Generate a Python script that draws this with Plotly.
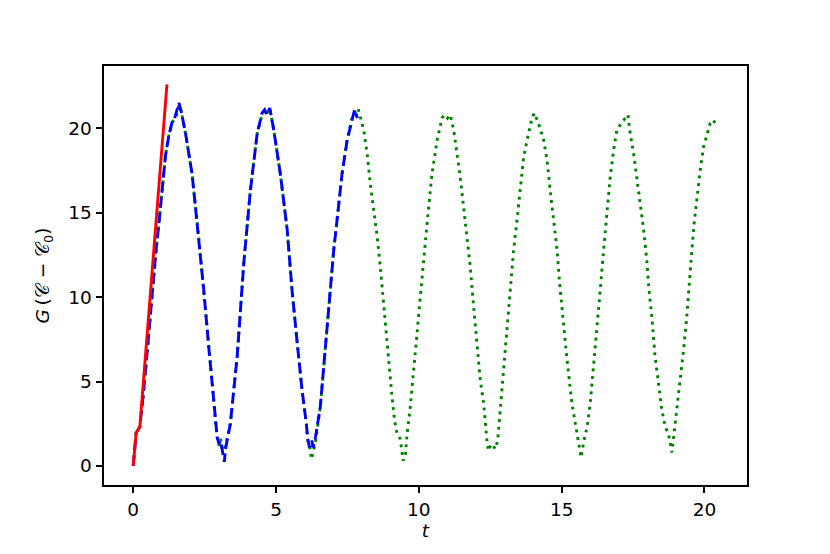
import plotly.graph_objects as go

# ---- data ----
red_t = [0.0, 0.1, 0.23, 0.5, 0.8, 1.18]
red_g = [0.0, 1.95, 2.3, 8.2, 14.7, 22.6]

blue_t = [0.0, 0.1, 0.23, 0.35, 0.5, 0.66, 0.8, 0.9, 1.0, 1.13, 1.25, 1.38, 1.45, 1.52, 1.6, 1.68,
          1.83, 2.06, 2.3, 2.47, 2.65, 2.79, 2.88, 2.94, 3.0, 3.06, 3.11, 3.19, 3.23, 3.29, 3.4,
          3.64, 3.87, 4.1, 4.34, 4.51, 4.6, 4.69, 4.78, 4.92, 5.15, 5.39, 5.56, 5.74, 5.91, 6.06,
          6.11, 6.17, 6.25, 6.3, 6.38, 6.55, 6.79, 7.02, 7.19, 7.31, 7.49, 7.66, 7.75, 7.85]
blue_g = [0.0, 1.95, 2.3, 4.2, 7.0, 10.2, 12.8, 14.4, 16.2, 18.4, 19.6, 20.5, 20.6, 21.0, 21.5, 21.0,
          19.7, 17.3, 13.4, 10.4, 6.9, 4.5, 2.6, 1.7, 1.3, 1.5, 1.0, 0.24, 1.0, 1.6, 2.5,
          6.5, 12.0, 16.3, 19.7, 20.9, 21.1, 20.8, 21.2, 19.9, 17.3, 14.0, 10.4, 7.3, 4.5, 2.5,
          1.6, 1.1, 1.5, 1.1, 1.7, 3.5, 8.4, 12.8, 15.4, 17.3, 19.3, 20.6, 21.1, 20.6]

green_t = [0.0, 0.1, 0.23, 0.35, 0.5, 0.66, 0.8, 0.9, 1.0, 1.13, 1.25, 1.38, 1.48, 1.52, 1.6, 1.68,
           1.83, 2.06, 2.3, 2.47, 2.65, 2.79, 2.88, 2.94, 3.0, 3.06, 3.11, 3.17, 3.23, 3.29, 3.4,
           3.64, 3.87, 4.1, 4.34, 4.51, 4.6, 4.69, 4.78, 4.92, 5.15, 5.39, 5.56, 5.74, 5.91, 6.06,
           6.11, 6.17, 6.24, 6.3, 6.38, 6.55, 6.79, 7.02, 7.19, 7.31, 7.49, 7.66, 7.75, 7.87,
           8.07, 8.19, 8.3, 8.42, 8.54, 8.65, 8.83, 8.94, 9.06, 9.15, 9.24, 9.35, 9.45, 9.53, 9.59,
           9.7, 9.82, 9.94, 10.05, 10.17, 10.29, 10.46, 10.64, 10.81, 10.9, 11.0, 11.1,
           11.22, 11.34, 11.45, 11.57, 11.69, 11.8, 11.92, 12.04, 12.15, 12.27, 12.33, 12.39, 12.44,
           12.53, 12.6, 12.68, 12.76, 12.85, 12.97, 13.09, 13.2, 13.32, 13.44, 13.55, 13.67, 13.84,
           13.95, 14.04, 14.19, 14.37, 14.49, 14.6, 14.72, 14.84, 14.92, 15.01, 15.13, 15.24, 15.36,
           15.45, 15.54, 15.63, 15.68, 15.77, 15.89, 16.0, 16.12, 16.24, 16.35, 16.47, 16.59, 16.7,
           16.82, 16.93, 17.09, 17.23, 17.32, 17.4, 17.52, 17.63, 17.75, 17.87, 17.98, 18.06, 18.16,
           18.22, 18.27, 18.39, 18.51, 18.63, 18.74, 18.82, 18.86, 18.92, 19.03, 19.15, 19.27, 19.38,
           19.46, 19.56, 19.64, 19.73, 19.85, 19.97, 20.09, 20.2, 20.28, 20.35, 20.45]
green_g = [0.0, 1.95, 2.3, 4.2, 7.0, 10.2, 12.8, 14.4, 16.2, 18.4, 19.6, 20.4, 20.6, 20.8, 21.4, 21.0,
           19.7, 17.3, 13.4, 10.4, 6.9, 4.5, 2.6, 1.7, 1.2, 1.6, 1.0, 0.9, 1.2, 1.6, 2.5,
           6.5, 12.0, 16.3, 19.7, 20.8, 21.0, 20.8, 21.2, 19.9, 17.3, 14.0, 10.4, 7.3, 4.5, 2.5,
           1.5, 1.2, 0.4, 0.8, 1.4, 3.5, 8.4, 12.8, 15.4, 17.3, 19.3, 20.6, 20.9, 21.2,
           19.9, 18.5, 16.7, 15.3, 13.6, 11.8, 8.4, 5.9, 4.1, 2.7, 1.9, 1.6, 0.3, 0.7, 1.9,
           3.5, 5.5, 7.9, 10.0, 12.4, 14.4, 17.3, 19.3, 20.6, 20.8, 20.6, 20.8,
           19.9, 18.5, 17.1, 15.3, 13.6, 11.8, 9.4, 6.9, 5.1, 3.7, 2.3, 1.4, 0.9,
           1.3, 1.2, 1.0, 1.5, 3.3, 5.7, 7.9, 10.2, 12.8, 14.6, 16.3, 18.3, 19.7,
           20.5, 20.9, 20.3, 19.3, 18.1, 16.3, 14.6, 12.8, 11.0, 9.2, 7.3, 5.5, 3.7,
           2.8, 1.9, 1.0, 0.5, 1.4, 2.3, 3.7, 5.9, 8.0, 10.4, 12.8, 15.0, 17.1,
           18.7, 19.9, 20.3, 20.6, 20.8, 19.7, 18.5, 17.1, 15.7, 14.0, 12.2, 10.4, 8.8,
           7.6, 6.5, 4.9, 3.3, 2.3, 1.9, 1.2, 0.8, 1.7, 3.3, 4.9, 6.9, 8.8,
           10.8, 12.8, 14.4, 15.9, 17.5, 18.9, 19.7, 20.3, 20.5, 20.4, 20.2]

x_ticks = [0, 5, 10, 15, 20]
y_ticks = [0, 5, 10, 15, 20]

FONT = "DejaVu Sans"
FS = 18.5
LW = 2.9

fig = go.Figure()
fig.add_trace(go.Scatter(x=green_t, y=green_g, mode="lines",
                         line=dict(color="#008000", width=LW, dash="2.9px,4.8px"),
                         showlegend=False, hoverinfo="skip"))
fig.add_trace(go.Scatter(x=blue_t, y=blue_g, mode="lines",
                         line=dict(color="#0000ff", width=LW, dash="10.7px,4.6px"),
                         showlegend=False, hoverinfo="skip"))
fig.add_trace(go.Scatter(x=red_t, y=red_g, mode="lines",
                         line=dict(color="#ff0000", width=LW),
                         showlegend=False, hoverinfo="skip"))

axis_common = dict(showgrid=False, zeroline=False, showline=True, mirror=True,
                   linecolor="black", linewidth=1.5, ticks="outside", ticklen=6.7,
                   tickwidth=1.5, tickcolor="black", automargin=False,
                   tickfont=dict(family=FONT, size=FS, color="black"))

# page body has an 8px margin, so the margins are offset to keep the axes box
# at the reference position
fig.update_layout(
    width=830, height=554,
    margin=dict(l=96, r=91, t=58, b=77),
    paper_bgcolor="white", plot_bgcolor="white",
    font=dict(family=FONT, size=FS, color="black"),
    xaxis=dict(range=[-1.024, 21.49], tickvals=x_ticks,
               ticktext=[str(v) for v in x_ticks],
               title=dict(text="<i>t</i>", standoff=4,
                          font=dict(family=FONT, size=FS, color="black")),
               **axis_common),
    yaxis=dict(range=[-1.13, 23.69], tickvals=y_ticks,
               ticktext=[str(v) for v in y_ticks],
               title=dict(text="<i>G</i>\u2009(\U0001D49E \u2212 \U0001D49E<sub>0</sub>)", standoff=14,
                          font=dict(family=FONT, size=FS, color="black")),
               **axis_common),
)

fig.write_html("out.html")
